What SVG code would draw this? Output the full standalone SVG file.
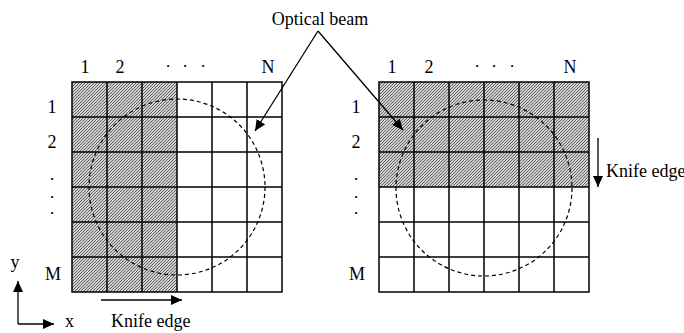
<svg xmlns="http://www.w3.org/2000/svg" width="684" height="333" viewBox="0 0 684 333">
<style>
text{font-family:"Liberation Serif","Times New Roman",serif;font-size:18px;fill:#000}
.c{text-anchor:middle}
.d{font-size:9px}
.grid{fill:none;stroke:#000;stroke-width:1.5}
.beam{fill:none;stroke:#000;stroke-width:1.2;stroke-dasharray:4 3}
.ln{fill:none;stroke:#000;stroke-width:1.3}
</style>
<defs>
<pattern id="hatch" patternUnits="userSpaceOnUse" width="3" height="3">
<rect width="3" height="3" fill="#d2d2d2"/>
<path d="M-1,1 L1,-1 M0,3 L3,0 M2,4 L4,2" stroke="#3a3a3a" stroke-width="0.75"/>
</pattern>
<marker id="ah" markerUnits="userSpaceOnUse" markerWidth="12" markerHeight="10" refX="11" refY="5" orient="auto">
<path d="M0,0 L11,5 L0,10 Z" fill="#000"/>
</marker>
</defs>
<rect width="684" height="333" fill="#fff"/>

<g id="grid-left" font-family="Liberation Serif, Times New Roman, serif">
<rect x="72" y="82" width="105" height="210" fill="url(#hatch)"/>
<rect class="grid" x="72" y="82" width="210" height="210"/>
<path class="grid" d="M107,82V292M142,82V292M177,82V292M212,82V292M247,82V292M72,117H282M72,152H282M72,187H282M72,222H282M72,257H282"/>
<circle class="beam" cx="177" cy="187" r="88"/>
<text class="c" x="85" y="73">1</text>
<text class="c" x="120" y="73">2</text>
<text class="c d" x="168" y="69">•</text>
<text class="c d" x="185" y="69">•</text>
<text class="c d" x="203" y="69">•</text>
<text class="c" x="268" y="73">N</text>
<text class="c" x="52" y="113">1</text>
<text class="c" x="52" y="148">2</text>
<text class="c d" x="52" y="182">•</text>
<text class="c d" x="52" y="200">•</text>
<text class="c d" x="52" y="216">•</text>
<text class="c" x="53" y="280">M</text>
</g>

<g id="grid-right" font-family="Liberation Serif, Times New Roman, serif">
<rect x="379" y="82" width="210" height="105" fill="url(#hatch)"/>
<rect class="grid" x="379" y="82" width="210" height="210"/>
<path class="grid" d="M414,82V292M449,82V292M484,82V292M519,82V292M554,82V292M379,117H589M379,152H589M379,187H589M379,222H589M379,257H589"/>
<circle class="beam" cx="484" cy="188" r="88"/>
<text class="c" x="392" y="73">1</text>
<text class="c" x="429" y="73">2</text>
<text class="c d" x="477" y="69">•</text>
<text class="c d" x="494" y="69">•</text>
<text class="c d" x="512" y="69">•</text>
<text class="c" x="570" y="73">N</text>
<text class="c" x="356" y="113">1</text>
<text class="c" x="356" y="148">2</text>
<text class="c d" x="356" y="182">•</text>
<text class="c d" x="356" y="200">•</text>
<text class="c d" x="356" y="216">•</text>
<text class="c" x="357" y="280">M</text>
</g>

<g id="beam-label" font-family="Liberation Serif, Times New Roman, serif">
<text class="c" x="320" y="25">Optical beam</text>
</g>

<g id="axes" font-family="Liberation Serif, Times New Roman, serif">
<text class="c" x="15" y="268">y</text>
<text x="65" y="327">x</text>
</g>

<g id="knife-left-label" font-family="Liberation Serif, Times New Roman, serif">
<text x="111" y="327">Knife edge</text>
</g>
<g id="knife-right-label" font-family="Liberation Serif, Times New Roman, serif">
<text x="606" y="177">Knife edge</text>
</g>

<g id="connectors">
<path class="ln" d="M318,31L255,131" marker-end="url(#ah)"/>
<path class="ln" d="M318,31L403,130" marker-end="url(#ah)"/>
<path class="ln" d="M101,300H182" marker-end="url(#ah)"/>
<path class="ln" d="M598,138V187" marker-end="url(#ah)"/>
<path class="ln" d="M18,324V281" marker-end="url(#ah)"/>
<path class="ln" d="M18,324H54" marker-end="url(#ah)"/>
</g>
</svg>
